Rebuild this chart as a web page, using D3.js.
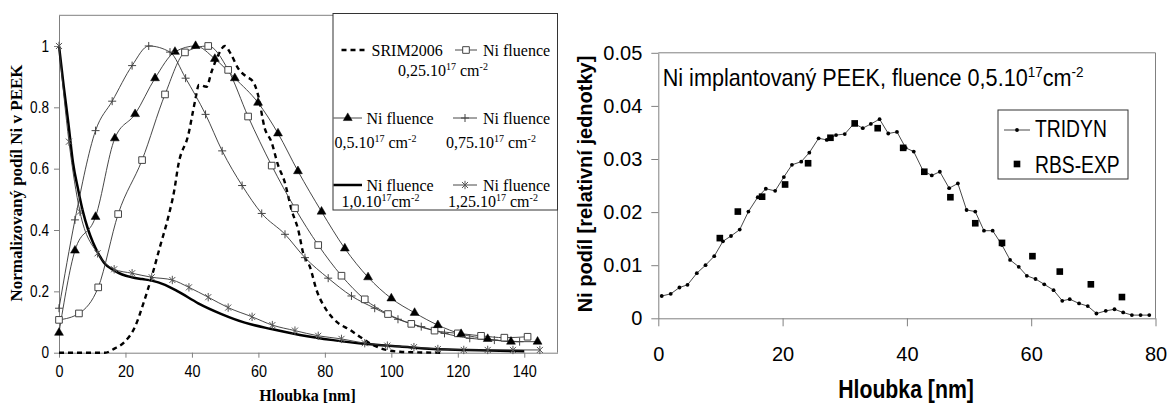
<!DOCTYPE html>
<html><head><meta charset="utf-8">
<script src="https://cdn.jsdelivr.net/npm/d3@7"></script>
<style>body{margin:0;background:#fff}text{white-space:pre}</style>
</head><body>
<svg id="c" width="1167" height="407"></svg>
<script>
// ---------------- LEFT CHART DATA ----------------
const leftXTicks = [0, 20, 40, 60, 80, 100, 120, 140];
const leftYTicks = [0, 0.2, 0.4, 0.6, 0.8, 1];
const leftYLabels = ["0", "0.2", "0.4", "0.6", "0.8", "1"];

const srimDepth = [0, 5, 10, 13.8, 16.8, 19.8, 22.9, 25.4, 27.9, 30.4, 32.9, 34.7, 35.9, 38.9, 40.9, 42.1, 44.4, 45.9, 47.9, 49.9, 51.9, 53.9, 56.4, 58.4, 59.9, 61.9, 63.9, 65.9, 67.9, 70, 72, 73.5, 75.5, 77.5, 80.5, 83.5, 87.6, 90.5, 94.5, 98.5, 102.6, 108, 115];
const srimValue = [0, 0, 0, 0, 0.014, 0.036, 0.085, 0.161, 0.248, 0.346, 0.443, 0.53, 0.612, 0.71, 0.818, 0.873, 0.867, 0.916, 0.97, 1.0, 0.97, 0.927, 0.9, 0.884, 0.84, 0.732, 0.688, 0.612, 0.557, 0.465, 0.4, 0.324, 0.28, 0.204, 0.139, 0.101, 0.074, 0.052, 0.025, 0.009, 0.003, 0.001, 0];

const f025Depth = [0, 6, 11.8, 17.8, 25, 31.9, 37.9, 44.9, 50.9, 56.9, 64, 71, 78, 85, 92, 99, 106, 113, 120, 127, 134, 141];
const f025Value = [0.107, 0.128, 0.213, 0.452, 0.628, 0.842, 0.979, 1.0, 0.922, 0.77, 0.61, 0.471, 0.351, 0.251, 0.174, 0.126, 0.094, 0.072, 0.063, 0.055, 0.049, 0.052];

const f05Depth = [0, 4.8, 11, 16.8, 22.9, 28.9, 34.9, 41.1, 46.9, 52.9, 59.9, 65.9, 71.9, 79, 86, 93, 100, 107, 114, 121, 129, 136, 144];
const f05Value = [0.065, 0.333, 0.443, 0.699, 0.778, 0.895, 0.981, 1.0, 0.958, 0.895, 0.815, 0.715, 0.592, 0.46, 0.34, 0.246, 0.177, 0.13, 0.09, 0.061, 0.045, 0.036, 0.036];

const f075Depth = [0, 4.8, 11, 16, 22, 27, 33.4, 38.1, 44.1, 49.1, 55.1, 61, 68, 74, 81, 88, 95, 102, 109, 116, 123.6, 131, 138.6];
const f075Value = [0.145, 0.433, 0.724, 0.82, 0.936, 1.0, 0.98, 0.895, 0.777, 0.658, 0.545, 0.454, 0.386, 0.31, 0.243, 0.185, 0.145, 0.109, 0.085, 0.063, 0.047, 0.041, 0.036];

const f10Depth = [0, 1.4, 2.8, 4.2, 5.8, 7.2, 8.8, 10.2, 11.8, 13.8, 16.3, 19, 21.9, 25, 27.9, 31.9, 35.9, 41.9, 48.9, 55.9, 63.9, 72.5, 82.5, 92.5, 102.6, 112.6, 122.6, 132.6, 140];
const f10Value = [1.0, 0.87, 0.75, 0.62, 0.53, 0.46, 0.4, 0.36, 0.324, 0.29, 0.27, 0.255, 0.246, 0.24, 0.235, 0.221, 0.199, 0.161, 0.126, 0.098, 0.077, 0.058, 0.041, 0.028, 0.02, 0.012, 0.009, 0.006, 0.005];

const f125Depth = [0, 3, 6.3, 11.6, 16.6, 22, 27.9, 34.1, 39.1, 44.9, 50.9, 58.1, 64.2, 71, 78, 85, 92, 98.8, 106.8, 114, 121.8, 129, 136.6, 144.7];
const f125Value = [1.0, 0.688, 0.46, 0.324, 0.272, 0.259, 0.246, 0.237, 0.213, 0.181, 0.147, 0.117, 0.09, 0.072, 0.055, 0.045, 0.031, 0.023, 0.018, 0.012, 0.009, 0.009, 0.009, 0.009];

// ---------------- RIGHT CHART DATA ----------------
const rightXTicks = [0, 20, 40, 60, 80];
const rightYTicks = [0, 0.01, 0.02, 0.03, 0.04, 0.05];
const rightYLabels = ["0", "0.01", "0.02", "0.03", "0.04", "0.05"];

const tridynDepth = [0.55, 2, 3.4, 4.7, 6.2, 7.6, 9, 10.4, 11.7, 13.1, 14.5, 16, 17.3, 18.8, 20.2, 21.5, 23, 24.3, 25.8, 27.1, 28.6, 30, 31.5, 32.9, 34.2, 35.6, 37, 38.4, 39.8, 41.1, 42.6, 44, 45.3, 46.8, 48.2, 49.6, 51, 52.4, 53.8, 55.3, 56.6, 58, 59.3, 60.7, 62.1, 63.6, 65, 66.2, 67.7, 69.1, 70.5, 72, 73.4, 74.8, 76.2, 77.6, 79];
const tridynValue = [0.0042, 0.0046, 0.0058, 0.0063, 0.0085, 0.01, 0.0117, 0.0145, 0.0155, 0.0167, 0.0201, 0.0228, 0.0244, 0.024, 0.0266, 0.0289, 0.0295, 0.0312, 0.0339, 0.0336, 0.0345, 0.0347, 0.0367, 0.0358, 0.0366, 0.0375, 0.0348, 0.0351, 0.0321, 0.0314, 0.0278, 0.0269, 0.0276, 0.0245, 0.0254, 0.0204, 0.0201, 0.0165, 0.0165, 0.0138, 0.011, 0.0097, 0.008, 0.0074, 0.0064, 0.0053, 0.0033, 0.0036, 0.0028, 0.0023, 0.0009, 0.0014, 0.0017, 0.0011, 0.0006, 0.0006, 0.0006];

const rbsDepth = [9.9, 12.8, 16.7, 20.4, 24.1, 27.7, 31.6, 35.3, 39.4, 42.8, 47.0, 51.0, 55.3, 60.2, 64.6, 69.6, 74.6];
const rbsValue = [0.0151, 0.0201, 0.0229, 0.0252, 0.0292, 0.034, 0.0367, 0.0358, 0.0321, 0.0276, 0.0228, 0.0179, 0.0142, 0.0117, 0.0088, 0.0064, 0.004];

// ---------------- DRAWING ----------------
const svg = d3.select('#c');
svg.append('rect').attr('width', 1167).attr('height', 407).attr('fill', '#fff');

const SANS = "Arial, 'Liberation Sans', sans-serif";
const SERIF = "'Times New Roman', 'Liberation Serif', serif";
const AXIS = '#808080';

function rich(parent, x, y, parts, o) {
  const t = parent.append('text')
    .attr('transform', `translate(${x},${y})${o.rot ? ` rotate(${o.rot})` : ''} scale(${o.sx || 1},1)`)
    .attr('font-family', o.family).attr('font-size', o.size)
    .attr('font-weight', o.weight || 'normal')
    .attr('text-anchor', o.anchor || 'start').attr('fill', '#000');
  let up = false;
  parts.forEach(p => {
    const s = t.append('tspan').text(p.t);
    if (p.sup) {
      s.attr('font-size', o.supSize);
      if (!up) { s.attr('dy', -o.supShift); up = true; }
    } else if (up) { s.attr('dy', o.supShift); up = false; }
  });
  return t;
}

// custom stroke symbols (size = half arm length)
const plusType = { draw(ctx, r) { ctx.moveTo(-r, 0); ctx.lineTo(r, 0); ctx.moveTo(0, -r); ctx.lineTo(0, r); } };
const starType = { draw(ctx, r) {
  const k = r * 0.72;
  ctx.moveTo(0, -r); ctx.lineTo(0, r);
  ctx.moveTo(-k, -k); ctx.lineTo(k, k);
  ctx.moveTo(-k, k); ctx.lineTo(k, -k);
} };

// ===== LEFT =====
const xL = d3.scaleLinear().domain([0, 150]).range([59, 557.5]);
const yL = d3.scaleLinear().domain([0, 1.1]).range([352.7, 15.3]);

const gL = svg.append('g');
gL.append('line').attr('x1', xL(0)).attr('x2', xL(150)).attr('y1', yL(1.1)).attr('y2', yL(1.1)).attr('stroke', AXIS);
gL.append('line').attr('x1', xL(150)).attr('x2', xL(150)).attr('y1', yL(1.1)).attr('y2', yL(0)).attr('stroke', AXIS);

const axL = gL.append('g').attr('transform', `translate(${xL(0)},0)`)
  .call(d3.axisLeft(yL).tickValues(leftYTicks).tickFormat((d, i) => leftYLabels[i]).tickSize(5).tickSizeOuter(0).tickPadding(5));
const axB = gL.append('g').attr('transform', `translate(0,${yL(0)})`)
  .call(d3.axisBottom(xL).tickValues(leftXTicks).tickFormat(d3.format('d')).tickSize(5).tickSizeOuter(0).tickPadding(8));
[axL, axB].forEach(a => {
  a.select('.domain').attr('stroke', AXIS);
  a.selectAll('.tick line').attr('stroke', AXIS);
  a.selectAll('.tick text').attr('font-family', SANS).attr('font-size', 16).attr('fill', '#000');
});
axL.selectAll('.tick text').attr('transform', 'scale(0.85,1)').attr('x', -10 / 0.85);
axB.selectAll('.tick text').attr('transform', 'scale(0.9,1)');

const smoothL = d3.line().x(d => xL(d[0])).y(d => yL(d[1])).curve(d3.curveMonotoneX);
const zip = (a, b) => a.map((v, i) => [v, b[i]]);

const markerStyles = {
  square: { path: d3.symbol().type(d3.symbolSquare).size(44)(), fill: '#fff', stroke: '#444', sw: 1 },
  tri: { path: d3.symbol().type(d3.symbolTriangle).size(34)(), fill: '#000', stroke: '#000', sw: 0.5 },
  plus: { path: d3.symbol().type(plusType).size(4)(), fill: 'none', stroke: '#444', sw: 1 },
  star: { path: d3.symbol().type(starType).size(4.2)(), fill: 'none', stroke: '#555', sw: 1 }
};

gL.append('path').datum(zip(srimDepth, srimValue)).attr('d', smoothL)
  .attr('fill', 'none').attr('stroke', '#000').attr('stroke-width', 2.4).attr('stroke-dasharray', '5,4');
gL.append('path').datum(zip(f10Depth, f10Value)).attr('d', smoothL)
  .attr('fill', 'none').attr('stroke', '#000').attr('stroke-width', 2.5);

const markerSeries = [
  { d: f025Depth, v: f025Value, m: 'square' },
  { d: f05Depth, v: f05Value, m: 'tri' },
  { d: f075Depth, v: f075Value, m: 'plus' },
  { d: f125Depth, v: f125Value, m: 'star' }
];
markerSeries.forEach(s => {
  gL.append('path').datum(zip(s.d, s.v)).attr('d', smoothL).attr('fill', 'none').attr('stroke', '#333').attr('stroke-width', 0.9);
});
markerSeries.forEach(s => {
  const st = markerStyles[s.m];
  gL.selectAll(null).data(zip(s.d, s.v)).enter().append('path')
    .attr('d', st.path).attr('transform', p => `translate(${xL(p[0])},${yL(p[1])})`)
    .attr('fill', st.fill).attr('stroke', st.stroke).attr('stroke-width', st.sw);
});

rich(gL, 22, 183, [{ t: 'Normalizovaný podíl Ni v PEEK' }], { family: SERIF, size: 17, weight: 'bold', anchor: 'middle', rot: -90 });
rich(gL, 307.5, 401, [{ t: 'Hloubka [nm]' }], { family: SERIF, size: 16, weight: 'bold', anchor: 'middle' });

// legend left
const lg = gL.append('g');
lg.append('rect').attr('x', 333).attr('y', 13.5).attr('width', 224.5).attr('height', 196.5)
  .attr('fill', '#fff').attr('stroke', '#333').attr('stroke-width', 1);
const legOpt = { family: SERIF, size: 16, supSize: 10, supShift: 6 };
function legSample(x1, x2, y, kind) {
  if (kind === 'dash') {
    lg.append('line').attr('x1', x1).attr('x2', x2).attr('y1', y).attr('y2', y).attr('stroke', '#000').attr('stroke-width', 2.4).attr('stroke-dasharray', '5,4');
  } else if (kind === 'thick') {
    lg.append('line').attr('x1', x1).attr('x2', x2).attr('y1', y).attr('y2', y).attr('stroke', '#000').attr('stroke-width', 2.5);
  } else {
    lg.append('line').attr('x1', x1).attr('x2', x2).attr('y1', y).attr('y2', y).attr('stroke', '#333').attr('stroke-width', 0.9);
    const st = markerStyles[kind];
    lg.append('path').attr('d', st.path).attr('transform', `translate(${(x1 + x2) / 2},${y})`)
      .attr('fill', st.fill).attr('stroke', st.stroke).attr('stroke-width', st.sw);
  }
}
legSample(341.5, 367, 50, 'dash');
rich(lg, 371.5, 55.5, [{ t: 'SRIM2006' }], legOpt);
legSample(455, 477, 50, 'square');
rich(lg, 483, 55.5, [{ t: 'Ni fluence' }], legOpt);
rich(lg, 398, 76, [{ t: '0,25.10' }, { t: '17', sup: true }, { t: ' cm' }, { t: '-2', sup: true }], legOpt);

legSample(333.5, 362, 118, 'tri');
rich(lg, 366.5, 123.5, [{ t: 'Ni fluence' }], legOpt);
legSample(453, 477, 118, 'plus');
rich(lg, 483, 123.5, [{ t: 'Ni fluence' }], legOpt);
rich(lg, 334.5, 147.5, [{ t: '0,5.10' }, { t: '17', sup: true }, { t: ' cm' }, { t: '-2', sup: true }], legOpt);
rich(lg, 446, 147.5, [{ t: '0,75.10' }, { t: '17', sup: true }, { t: ' cm' }, { t: '-2', sup: true }], legOpt);

legSample(333.5, 362, 185, 'thick');
rich(lg, 366.5, 190.5, [{ t: 'Ni fluence' }], legOpt);
legSample(453, 477, 185, 'star');
rich(lg, 483, 190.5, [{ t: 'Ni fluence' }], legOpt);
rich(lg, 341.5, 207, [{ t: '1,0.10' }, { t: '17', sup: true }, { t: 'cm' }, { t: '-2', sup: true }], legOpt);
rich(lg, 448, 207, [{ t: '1,25.10' }, { t: '17', sup: true }, { t: ' cm' }, { t: '-2', sup: true }], legOpt);

// ===== RIGHT =====
const xR = d3.scaleLinear().domain([0, 80]).range([658.3, 1155.5]);
const yR = d3.scaleLinear().domain([0, 0.05]).range([318.3, 52.8]);
const gR = svg.append('g');
gR.append('line').attr('x1', xR(0)).attr('x2', xR(80)).attr('y1', yR(0.05)).attr('y2', yR(0.05)).attr('stroke', AXIS);
gR.append('line').attr('x1', xR(80)).attr('x2', xR(80)).attr('y1', yR(0.05)).attr('y2', yR(0)).attr('stroke', AXIS);

const axRL = gR.append('g').attr('transform', `translate(${xR(0)},0)`)
  .call(d3.axisLeft(yR).tickValues(rightYTicks).tickFormat((d, i) => rightYLabels[i]).tickSize(7).tickSizeOuter(0).tickPadding(9));
const axRB = gR.append('g').attr('transform', `translate(0,${yR(0)})`)
  .call(d3.axisBottom(xR).tickValues(rightXTicks).tickFormat(d3.format('d')).tickSize(8).tickSizeOuter(0).tickPadding(21));
[axRL, axRB].forEach(a => {
  a.select('.domain').attr('stroke', AXIS);
  a.selectAll('.tick line').attr('stroke', AXIS);
  a.selectAll('.tick text').attr('font-family', SANS).attr('font-size', 20).attr('fill', '#000');
});

const lineR = d3.line().x(d => xR(d[0])).y(d => yR(d[1]));
gR.append('path').datum(zip(tridynDepth, tridynValue)).attr('d', lineR)
  .attr('fill', 'none').attr('stroke', '#333').attr('stroke-width', 0.9);
gR.selectAll(null).data(zip(tridynDepth, tridynValue)).enter().append('circle')
  .attr('cx', p => xR(p[0])).attr('cy', p => yR(p[1])).attr('r', 1.9).attr('fill', '#000');
const sqPath = d3.symbol().type(d3.symbolSquare).size(44)();
gR.selectAll(null).data(zip(rbsDepth, rbsValue)).enter().append('path')
  .attr('d', sqPath).attr('transform', p => `translate(${xR(p[0])},${yR(p[1])})`).attr('fill', '#000');

rich(gR, 662.7, 86, [{ t: 'Ni implantovaný PEEK, fluence 0,5.10' }, { t: '17', sup: true }, { t: 'cm' }, { t: '-2', sup: true }],
  { family: SANS, size: 24, supSize: 15, supShift: 9, sx: 0.9 });

rich(gR, 906, 398, [{ t: 'Hloubka [nm]' }], { family: SANS, size: 25, weight: 'bold', anchor: 'middle', sx: 0.85 });
rich(gR, 591.5, 184, [{ t: 'Ni podíl [relativní jednotky]' }], { family: SANS, size: 20, weight: 'bold', anchor: 'middle', rot: -90 });

const lgR = gR.append('g');
lgR.append('rect').attr('x', 998).attr('y', 110).attr('width', 130).attr('height', 69)
  .attr('fill', '#fff').attr('stroke', '#333').attr('stroke-width', 1);
lgR.append('line').attr('x1', 1004).attr('x2', 1030).attr('y1', 130).attr('y2', 130).attr('stroke', '#333').attr('stroke-width', 0.9);
lgR.append('circle').attr('cx', 1017).attr('cy', 130).attr('r', 1.9).attr('fill', '#000');
lgR.append('path').attr('d', sqPath).attr('transform', 'translate(1017,164)').attr('fill', '#000');
rich(lgR, 1035, 137, [{ t: 'TRIDYN' }], { family: SANS, size: 23, sx: 0.84 });
rich(lgR, 1035, 173, [{ t: 'RBS-EXP' }], { family: SANS, size: 23, sx: 0.84 });
</script>
</body></html>
